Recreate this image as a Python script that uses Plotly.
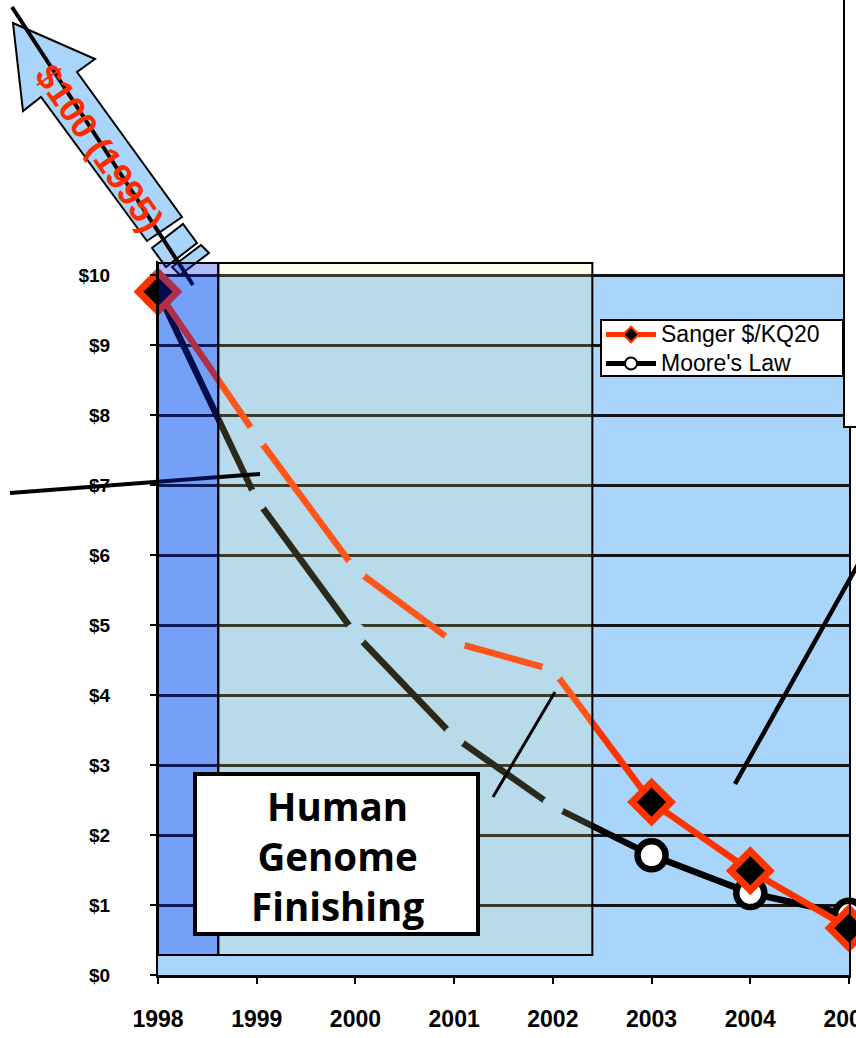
import plotly.graph_objects as go

# ---------------- data ----------------
years = [1998, 1999, 2000, 2001, 2002, 2003, 2004, 2005]
sanger = [9.76, 7.70, 5.79, 4.75, 4.36, 2.47, 1.49, 0.67]
moore = [9.76, 6.79, 4.87, 3.40, 2.41, 1.71, 1.17, 0.86]
y_ticks = list(range(0, 11))
y_tick_text = ["$" + str(v) for v in y_ticks]
x_tick_text = [str(y) for y in years]
series_names = ["Sanger $/KQ20", "Moore's Law"]
finishing_label = "Human<br>Genome<br>Finishing"
arrow_label = "$100 (1995)"
gap_years = (1999, 2002)          # points drawn as breaks in the lines
phase1 = (1998, 1998.61)          # darker shaded period
phase2 = (1998.61, 2002.40)       # Human Genome Finishing period
shade_y = (0.286, 10.17)

# ---------------- layout constants ----------------
W, H = 856, 1038
L, R, T, B = 158, 849, 261, 975
BG = "#a9d5fb"
ORANGE = "#ff3300"


def px(x):
    return (x - L) / (R - L)


def py(y):
    return (B - y) / (B - T)


def legend_name(s):
    return '<span style="font-size:23px">' + s + "</span>"


shown = [not (gap_years[0] <= yr <= gap_years[1]) for yr in years]
gap_x = [yr for yr, s in zip(years, shown) if not s]
gap_moore = [v for v, s in zip(moore, shown) if not s]
gap_sanger = [v for v, s in zip(sanger, shown) if not s]

fig = go.Figure()

fig.add_trace(go.Scatter(
    x=years, y=moore, name=legend_name(series_names[1]), mode="lines+markers",
    line=dict(color="black", width=6.5),
    marker=dict(symbol="circle", color="white", opacity=1,
                size=[28 if s else 0 for s in shown],
                line=dict(color="black", width=[6.5 if s else 0 for s in shown])),
    cliponaxis=False, legendrank=2, hoverinfo="skip"))
fig.add_trace(go.Scatter(
    x=gap_x, y=gap_moore, mode="markers", showlegend=False,
    marker=dict(symbol="circle", color=BG, size=22, opacity=1, line=dict(width=0)),
    cliponaxis=False, hoverinfo="skip"))
fig.add_trace(go.Scatter(
    x=years, y=sanger, name=legend_name(series_names[0]), mode="lines+markers",
    line=dict(color=ORANGE, width=6.5),
    marker=dict(symbol="diamond", color="black", opacity=1,
                size=[30 if s else 0 for s in shown],
                line=dict(color=ORANGE, width=[7 if s else 0 for s in shown])),
    cliponaxis=False, legendrank=1, hoverinfo="skip"))
fig.add_trace(go.Scatter(
    x=gap_x, y=gap_sanger, mode="markers", showlegend=False,
    marker=dict(symbol="circle", color=BG, size=22, opacity=1, line=dict(width=0)),
    cliponaxis=False, hoverinfo="skip"))


def ppath(points):
    return "M " + " L ".join(f"{px(a):.5f},{py(b):.5f}" for a, b in points) + " Z"


shapes = []
# plot background (blue) under gridlines
shapes.append(dict(type="rect", xref="x", yref="y", x0=years[0], x1=years[-1], y0=0, y1=y_ticks[-1],
                   fillcolor=BG, line=dict(width=0), layer="below"))
# finishing period overlay
shapes.append(dict(type="rect", xref="x", yref="y", x0=phase2[0], x1=phase2[1], y0=shade_y[0], y1=shade_y[1],
                   fillcolor="rgba(253,247,153,0.17)", line=dict(color="black", width=2), layer="above"))
# block arrow
shapes.append(dict(type="path", xref="paper", yref="paper", layer="above",
                   path=ppath([(13, 23), (95, 59), (77, 72), (182, 217), (147, 241), (41, 97), (23, 111)]),
                   fillcolor=BG, line=dict(color="black", width=2)))
shapes.append(dict(type="path", xref="paper", yref="paper", layer="above",
                   path=ppath([(152, 248), (183, 224), (197, 243), (166, 267)]),
                   fillcolor=BG, line=dict(color="black", width=2)))
shapes.append(dict(type="path", xref="paper", yref="paper", layer="above",
                   path=ppath([(201, 245), (209, 253), (180, 275), (172, 267)]),
                   fillcolor=BG, line=dict(color="black", width=2)))
# stray connector lines
for (x0, y0, x1, y1, w) in [(12, 7, 193, 285, 4), (10, 493, 260, 474, 4),
                            (493, 797, 555, 692, 3), (735, 784, 870, 543, 4.5)]:
    shapes.append(dict(type="line", xref="paper", yref="paper", layer="above",
                       x0=px(x0), y0=py(y0), x1=px(x1), y1=py(y1),
                       line=dict(color="black", width=w)))
# darker early period overlay
shapes.append(dict(type="rect", xref="x", yref="y", x0=phase1[0], x1=phase1[1], y0=shade_y[0], y1=shade_y[1],
                   fillcolor="rgba(0,42,239,0.31)", line=dict(color="black", width=2), layer="above"))
# white box top-right
shapes.append(dict(type="rect", xref="paper", yref="paper", layer="above",
                   x0=px(844), x1=px(900), y0=py(427), y1=py(-20),
                   fillcolor="white", line=dict(color="black", width=2)))
# legend box
shapes.append(dict(type="rect", xref="paper", yref="paper", layer="above",
                   x0=px(601), x1=px(843), y0=py(376), y1=py(320),
                   fillcolor="white", line=dict(color="black", width=2)))
# Human Genome Finishing box
shapes.append(dict(type="rect", xref="paper", yref="paper", layer="above",
                   x0=px(195), x1=px(478), y0=py(934), y1=py(774),
                   fillcolor="white", line=dict(color="black", width=4)))

annotations = [
    dict(xref="paper", yref="paper", x=px(99), y=py(148), xanchor="center", yanchor="middle",
         text="<b>" + arrow_label + "</b>", showarrow=False, textangle=55,
         font=dict(family="Liberation Sans", size=36, color="#ff2a00")),
    dict(xref="paper", yref="paper", x=px(337), y=py(856), xanchor="center", yanchor="middle",
         text=finishing_label, showarrow=False,
         font=dict(family="Open Sans", size=38.5, color="black", weight="bold")),
]

fig.update_layout(
    template="none",
    width=W, height=H, autosize=False,
    margin=dict(l=L, r=W - R, t=T, b=H - B, pad=0),
    paper_bgcolor="white", plot_bgcolor="white",
    shapes=shapes, annotations=annotations,
    hovermode=False,
    legend=dict(x=px(601), y=py(315), xanchor="left", yanchor="top",
                bgcolor="rgba(0,0,0,0)", borderwidth=0,
                font=dict(family="Liberation Sans", size=20, color="black"),
                itemsizing="constant", itemwidth=50, traceorder="normal",
                tracegroupgap=0),
    xaxis=dict(range=[years[0], years[-1]], tickvals=years, ticktext=x_tick_text,
               showgrid=False, zeroline=False, showline=True, linecolor="black", linewidth=3,
               ticks="outside", ticklen=6, tickwidth=2, tickcolor="black",
               ticklabelstandoff=15, ticklabeloverflow="allow", automargin=False,
               tickfont=dict(family="Liberation Sans", size=23, color="black", weight="bold")),
    yaxis=dict(range=[0, 10.2], tickvals=y_ticks, ticktext=y_tick_text,
               showgrid=True, gridcolor="#151515", gridwidth=2.5, zeroline=False,
               showline=True, linecolor="black", linewidth=2, mirror=True,
               ticks="outside", ticklen=6, tickwidth=2, tickcolor="black",
               ticklabelstandoff=36, automargin=False,
               tickfont=dict(family="Liberation Sans", size=19, color="black", weight="bold")),
)

fig.write_html("out.html", config={"displayModeBar": False},
               post_script="document.body.style.margin='0';")
